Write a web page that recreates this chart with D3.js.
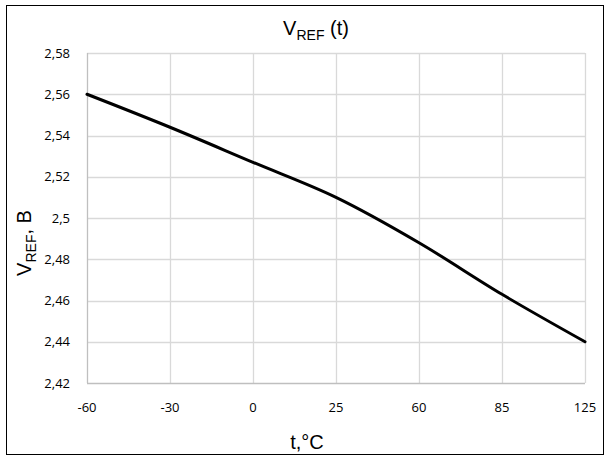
<!DOCTYPE html>
<html><head><meta charset="utf-8">
<script src="https://cdn.jsdelivr.net/npm/d3@7"></script>
<style>body{margin:0;background:#fff}</style>
</head><body>
<svg id="c" width="605" height="456"></svg>
<script>
const categories = ["-60","-30","0","25","60","85","125"];
const values = [2.560, 2.544, 2.527, 2.510, 2.488, 2.463, 2.440];
const yTicks = [2.42,2.44,2.46,2.48,2.5,2.52,2.54,2.56,2.58];

const tickFont = "'Open Sans', sans-serif";
const titleFont = "'Liberation Sans', Arial, sans-serif";

const svg = d3.select("#c");
svg.append("rect").attr("x",6.5).attr("y",5.5).attr("width",597).attr("height",449)
  .attr("fill","#fff").attr("stroke","#000").attr("stroke-width",1);

const L=87, R=585, T=53, B=383;
const x = d3.scalePoint().domain(categories).range([L,R]);
const y = d3.scaleLinear().domain([2.42,2.58]).range([B,T]);
const fmt = v => String(+v.toFixed(2)).replace(".",",");

svg.append("g").selectAll("line").data(yTicks.slice(1)).join("line")
  .attr("x1",L).attr("x2",R).attr("y1",d=>Math.round(y(d))+0.5).attr("y2",d=>Math.round(y(d))+0.5)
  .attr("stroke","#d9d9d9").attr("stroke-width",1.3);
svg.append("g").selectAll("line").data(categories.slice(1)).join("line")
  .attr("x1",d=>Math.round(x(d))+0.5).attr("x2",d=>Math.round(x(d))+0.5).attr("y1",T).attr("y2",B)
  .attr("stroke","#d9d9d9").attr("stroke-width",1.3);
svg.append("line").attr("x1",L+0.5).attr("x2",L+0.5).attr("y1",T).attr("y2",B).attr("stroke","#bfbfbf").attr("stroke-width",1.3);
svg.append("line").attr("x1",L).attr("x2",R).attr("y1",B+0.5).attr("y2",B+0.5).attr("stroke","#bfbfbf").attr("stroke-width",1.3);

svg.append("g").selectAll("text").data(yTicks).join("text")
  .attr("x",70).attr("y",d=>y(d)).attr("dy","0.35em").attr("text-anchor","end")
  .attr("font-family",tickFont).attr("font-size",13).attr("fill","#000").text(fmt);
svg.append("g").selectAll("text").data(categories).join("text")
  .attr("x",d=>x(d)).attr("y",407).attr("dy","0.35em").attr("text-anchor","middle")
  .attr("font-family",tickFont).attr("font-size",13).attr("fill","#000").text(d=>d);

const line = d3.line().x((d,i)=>x(categories[i])).y(d=>y(d)).curve(d3.curveCatmullRom.alpha(0));
svg.append("path").datum(values).attr("d",line).attr("fill","none")
  .attr("stroke","#000").attr("stroke-width",3).attr("stroke-linecap","round");

const t = svg.append("text").attr("x",316).attr("y",35).attr("text-anchor","middle")
  .attr("font-family",titleFont).attr("font-size",20).attr("fill","#000");
t.append("tspan").text("V");
t.append("tspan").attr("font-size",14).attr("dy",5).text("REF");
t.append("tspan").attr("dy",-5).text(" (t)");

const yt = svg.append("text").attr("transform","translate(31,243) rotate(-90)").attr("text-anchor","middle")
  .attr("font-family",titleFont).attr("font-size",20).attr("fill","#000");
yt.append("tspan").text("V");
yt.append("tspan").attr("font-size",14).attr("dy",5).text("REF");
yt.append("tspan").attr("dy",-5).text(", B");

svg.append("text").attr("x",307).attr("y",449).attr("text-anchor","middle")
  .attr("font-family",titleFont).attr("font-size",20).attr("fill","#000").text("t,°C");
</script>
</body></html>
